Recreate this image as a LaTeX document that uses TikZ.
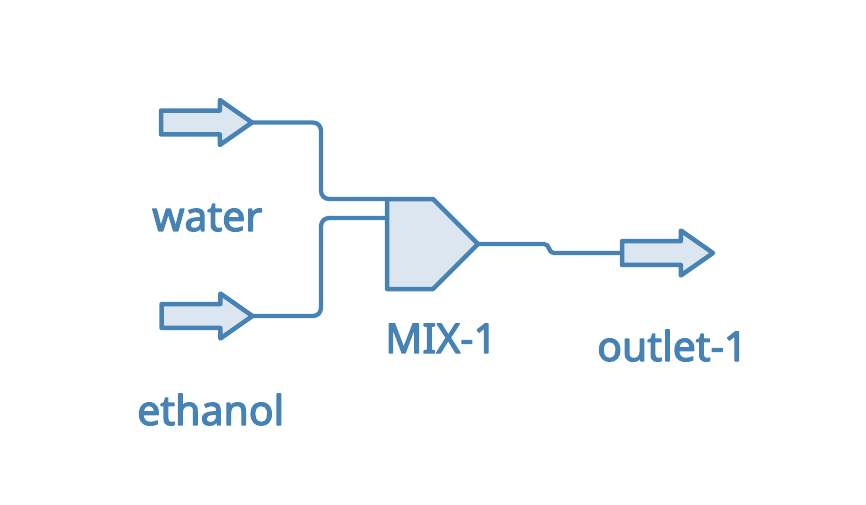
\documentclass[tikz,border=0pt]{standalone}
\usepackage{fontspec}
\setmainfont{Noto Sans}[FakeBold=3]
\usetikzlibrary{shapes.arrows}
\definecolor{streamblue}{HTML}{4682B4}
\definecolor{unitfill}{HTML}{DCE6F1}
\tikzset{port/.style={draw=streamblue,fill=unitfill,line width=4.5pt,line join=round,
    single arrow,single arrow head extend=2pt,single arrow tip angle=70,single arrow head indent=0pt,
    minimum height=91pt,minimum width=45pt,inner sep=0pt,outer sep=0pt,anchor=tip}}
\tikzset{stream/.style={draw=streamblue,line width=4.3pt,rounded corners=8pt}}
\tikzset{l/.style={text=streamblue,anchor=base west,inner sep=0pt,font=\fontsize{41}{41}\selectfont}}
\begin{document}
\begin{tikzpicture}[x=1pt,y=-1pt,line join=round]
  \useasboundingbox (0,0) rectangle (866,504);
  \node[port] (water) at (252,122.5) {};
  \node[port] (ethanol) at (252.5,316) {};
  \node[port] (outlet) at (713,253) {};
  % mixer block
  \coordinate (mixa) at (387,199);
  \coordinate (mixb) at (387,218);
  \coordinate (mixout) at (478,244);
  \coordinate (bus) at (321,0);
  \coordinate (jog) at (549,0);
  \draw[stream] (water.tip) -- (water.tip -| bus) -- (bus |- mixa) -- (mixa);
  \draw[stream] (ethanol.tip) -- (ethanol.tip -| bus) -- (bus |- mixb) -- (mixb);
  \draw[stream,rounded corners=5pt] (mixout) -- (mixout -| jog) -- (jog |- outlet.west) -- (outlet.west);
  \filldraw[draw=streamblue,fill=unitfill,line width=4.5pt] (mixa) -- (433,199) -- (mixout) -- (433,289) -- (387,289) -- cycle;
  \node[l] (waterlabel) at (152,231) {water};
  \node[l] (ethanollabel) at (137,425) {ethanol};
  \node[l] (mixlabel) at (385,353) {MIX-1};
  \node[l] (outletlabel) at (597,361) {outlet-1};
\end{tikzpicture}
\end{document}
